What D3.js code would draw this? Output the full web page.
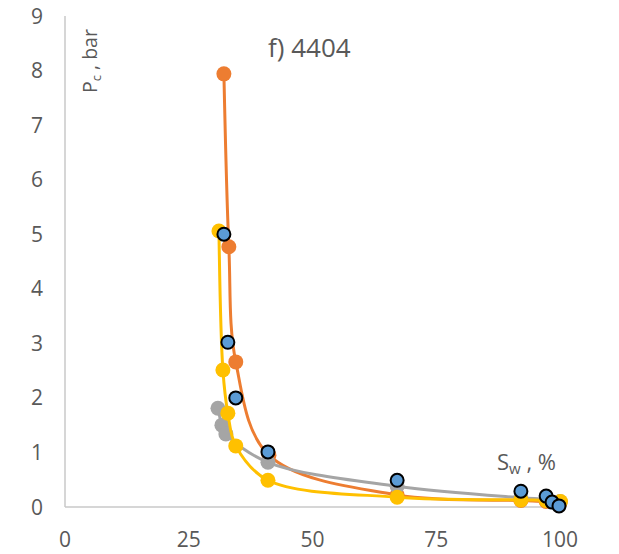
<!DOCTYPE html>
<html>
<head>
<meta charset="utf-8">
<script src="https://cdn.jsdelivr.net/npm/d3@7"></script>
<style>
  body { margin: 0; background: #fff; }
  text { font-family: "Open Sans", sans-serif; fill: #595959; }
</style>
</head>
<body>
<script>
var width = 619,
    height = 554;

// Sw (%) and Pc (bar)
var orangeSw = [32.1, 33.1, 34.5, 41.2, 67.1, 92.1, 97.2, 100];
var orangePc = [7.94, 4.77, 2.66, 0.95, 0.22, 0.12, 0.10, 0.08];
var graySw = [30.9, 31.7, 32.5, 41.0, 67.1, 92.1, 97.2, 100];
var grayPc = [1.81, 1.50, 1.34, 0.82, 0.38, 0.17, 0.14, 0.10];
var yellowSw = [31.1, 31.9, 32.9, 34.5, 41.0, 67.1, 92.1, 97.2, 100.1];
var yellowPc = [5.06, 2.51, 1.72, 1.12, 0.49, 0.18, 0.13, 0.12, 0.10];
var blueSw = [32.1, 32.9, 34.5, 41.0, 67.1, 92.1, 97.2, 98.4, 99.8];
var bluePc = [5.00, 3.02, 2.00, 1.01, 0.49, 0.29, 0.20, 0.09, 0.02];

var xTicks = [0, 25, 50, 75, 100];
var yTicks = [0, 1, 2, 3, 4, 5, 6, 7, 8, 9];

var x = d3.scaleLinear().domain([0, 100]).range([65, 560]);
var y = d3.scaleLinear().domain([0, 9]).range([507, 16]);

var svg = d3.select("body").append("svg")
    .attr("width", width)
    .attr("height", height);

// axes lines
svg.append("line")
    .attr("x1", x(0)).attr("x2", x(0))
    .attr("y1", y(9)).attr("y2", y(0))
    .attr("stroke", "#c8c8c8").attr("stroke-width", 1.5);
svg.append("line")
    .attr("x1", x(0)).attr("x2", x(100))
    .attr("y1", y(0)).attr("y2", y(0))
    .attr("stroke", "#c8c8c8").attr("stroke-width", 1.5);

svg.selectAll(".ylab")
    .data(yTicks)
    .enter().append("text")
    .attr("class", "ylab")
    .attr("x", 43)
    .attr("y", function(d) { return y(d) + 7.5; })
    .attr("text-anchor", "end")
    .attr("font-size", 21)
    .text(function(d) { return d; });

svg.selectAll(".xlab")
    .data(xTicks)
    .enter().append("text")
    .attr("class", "xlab")
    .attr("x", function(d) { return x(d); })
    .attr("y", 547)
    .attr("text-anchor", "middle")
    .attr("font-size", 21)
    .text(function(d) { return d; });

var line = d3.line()
    .x(function(d) { return x(d[0]); })
    .y(function(d) { return y(d[1]); })
    .curve(d3.curveCatmullRom.alpha(0.5));

function zip(a, b) { return a.map(function(v, i) { return [v, b[i]]; }); }

var series = [
  { sw: orangeSw, pc: orangePc, color: "#ED7D31", line: true },
  { sw: graySw, pc: grayPc, color: "#A5A5A5", line: true },
  { sw: yellowSw, pc: yellowPc, color: "#FFC000", line: true },
  { sw: blueSw, pc: bluePc, color: "#5B9BD5", line: false }
];

series.forEach(function(s) {
  var pts = zip(s.sw, s.pc);
  if (s.line) {
    svg.append("path")
        .datum(pts)
        .attr("d", line)
        .attr("fill", "none")
        .attr("stroke", s.color)
        .attr("stroke-width", 3);
  }
  svg.append("g").selectAll("circle")
      .data(pts)
      .enter().append("circle")
      .attr("cx", function(d) { return x(d[0]); })
      .attr("cy", function(d) { return y(d[1]); })
      .attr("r", s.line ? 7.5 : 6.5)
      .attr("fill", s.color)
      .attr("stroke", s.line ? "none" : "#000")
      .attr("stroke-width", 2);
});

// title
svg.append("text")
    .attr("x", 268)
    .attr("y", 57)
    .attr("font-size", 26)
    .text("f) 4404");

// y label
var yl = svg.append("text")
    .attr("transform", "translate(97,93) rotate(-90)")
    .attr("font-size", 19.5);
yl.append("tspan").text("P");
yl.append("tspan").attr("font-size", 13).attr("dy", 4).text("c");
yl.append("tspan").attr("dy", -4).text(" , bar");

// x label
var xl = svg.append("text")
    .attr("x", 497)
    .attr("y", 470)
    .attr("font-size", 22);
xl.append("tspan").text("S");
xl.append("tspan").attr("font-size", 15).attr("dy", 4).text("w");
xl.append("tspan").attr("dy", -4).text(" , %");
</script>
</body>
</html>
